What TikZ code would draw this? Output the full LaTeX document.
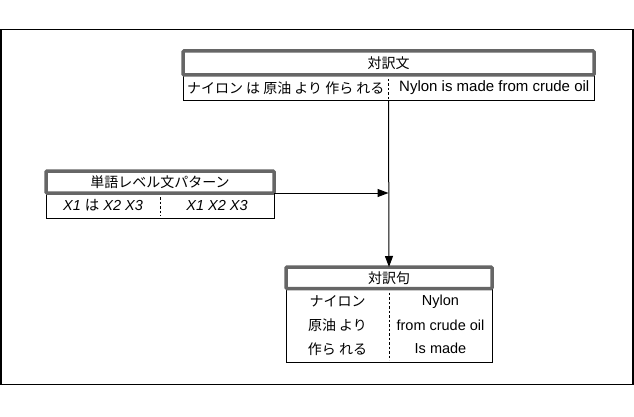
\documentclass[tikz,border=0pt]{standalone}
\usepackage{fontspec}
\setmainfont{Liberation Sans}
\newfontfamily\jpfont{Noto Sans CJK JP}
\usetikzlibrary{positioning,arrows.meta,calc}
\definecolor{headgray}{RGB}{102,102,102}

\begin{document}
\begin{tikzpicture}[x=1pt,y=-1pt,font=\fontsize{14.5}{16}\selectfont,
    tbody/.style={draw=black,line width=1pt,fill=white,inner sep=0pt,outer sep=0pt},
    thead/.style={draw=headgray,line width=3.5pt,fill=white,rounded corners=1pt,
                  inner sep=0pt,outer sep=0pt,font=\fontsize{14}{16}\selectfont\jpfont},
    cell/.style={inner sep=1pt},
    divider/.style={dash pattern=on 2.5pt off 2pt,line width=0.8pt,
                    shorten <=4pt,shorten >=2pt},
    conn/.style={line width=1pt,-{Triangle[length=11pt,width=8pt]}}]
    \useasboundingbox (0,0) rectangle (634,417);
    % Rahmen
    \draw[line width=1.5pt] (0.75,29.5) rectangle (633,384.5);
    % Tabelle 1: Satzpaar
    \node[tbody,minimum width=411pt,minimum height=26pt] (pairbody) at (388.5,88) {};
    \node[thead,minimum width=411pt,minimum height=24pt,above=0pt of pairbody] (pairhead) {対訳文};
    \draw[divider] (pairbody.north) -- (pairbody.south);
    \node[cell,font=\fontsize{14}{16}\selectfont] (pairja) at ($(pairbody.center)!0.5!(pairbody.west)$)
        {\jpfont ナイロン は 原油 より 作ら れる};
    \node[cell,font=\fontsize{15}{16}\selectfont,xshift=3pt] (pairen) at ($(pairbody.center)!0.5!(pairbody.east)$)
        {Nylon is made from crude oil};
    % Tabelle 2: Muster
    \node[tbody,minimum width=228pt,minimum height=25pt] (patbody) at (160,205.5) {};
    \node[thead,minimum width=228pt,minimum height=22pt,above=0pt of patbody] (pathead) {単語レベル文パターン};
    \draw[divider] (patbody.north) -- (patbody.south);
    \node[cell] (patja) at ($(patbody.center)!0.5!(patbody.west)$)
        {\textit{X1} {\jpfont は} \textit{X2} \textit{X3}};
    \node[cell] (paten) at ($(patbody.center)!0.5!(patbody.east)$)
        {\textit{X1} \textit{X2} \textit{X3}};
    % Tabelle 3: Phrasen
    \node[tbody,minimum width=206pt,minimum height=73.5pt] (phrbody) at (389,325.25) {};
    \node[thead,minimum width=206pt,minimum height=21.5pt,above=0pt of phrbody] (phrhead) {対訳句};
    \draw[divider] (phrbody.north) -- (phrbody.south);
    \foreach \i/\ja/\en in {-1/ナイロン/Nylon,0/原油 より/from crude oil,1/作ら れる/Is made}{
        \node[cell,font=\fontsize{14}{16}\selectfont] (phrja\i) at ($($(phrbody.center)!0.5!(phrbody.west)$)+(0,23.5*\i)$)
            {\jpfont\ja};
        \node[cell] (phren\i) at ($($(phrbody.center)!0.5!(phrbody.east)$)+(0,23.5*\i)$)
            {\en};
    }
    % Verbindungen
    \coordinate (join) at (pairbody.south |- patbody.north east);
    \draw[conn] (pairbody.south) -- (phrhead.north);
    \draw[conn] (patbody.north east) -- (join);
\end{tikzpicture}
\end{document}
